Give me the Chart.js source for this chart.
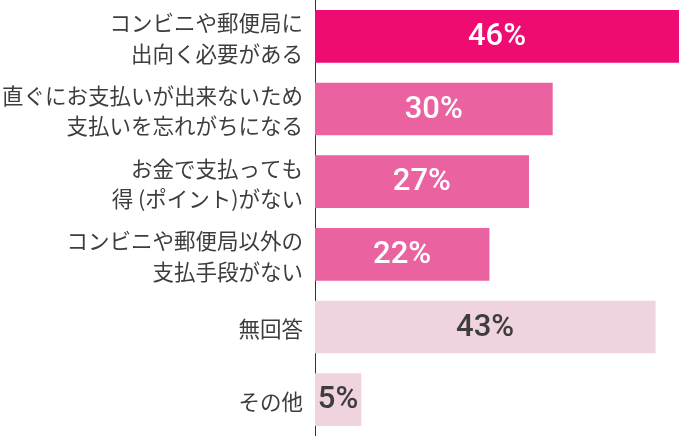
<!DOCTYPE html>
<html>
<head>
<meta charset="utf-8">
<script src="https://cdn.jsdelivr.net/npm/chart.js@4"></script>
<style>
  html, body { margin: 0; padding: 0; background: #fff; }
  #wrap { width: 679px; height: 436px; overflow: hidden; }
</style>
</head>
<body>
<div id="wrap"><canvas id="chart"></canvas></div>
<script>
const categories = [
    ['コンビニや郵便局に', '出向く必要がある'],
    ['直ぐにお支払いが出来ないため', '支払いを忘れがちになる'],
    ['お金で支払っても', '得 (ポイント)がない'],
    ['コンビニや郵便局以外の', '支払手段がない'],
    '無回答',
    'その他'
];
const values = [46, 30, 27, 22, 43, 5];
const valueLabels = ['46%', '30%', '27%', '22%', '43%', '5%'];

const barColors = ['#ee0b72', '#ea63a0', '#ea63a0', '#ea63a0', '#efd4e0', '#efd4e0'];
const labelColors = ['#ffffff', '#ffffff', '#ffffff', '#ffffff', '#3d3d3d', '#3d3d3d'];

const valueLabelPlugin = {
    id: 'valueLabels',
    afterDatasetsDraw(chart) {
        const ctx = chart.ctx;
        const meta = chart.getDatasetMeta(0);
        ctx.save();
        ctx.font = '500 31px Roboto, "Noto Sans", sans-serif';
        ctx.textAlign = 'center';
        ctx.textBaseline = 'middle';
        meta.data.forEach((bar, i) => {
            const x = (bar.base + bar.x) / 2;
            ctx.fillStyle = labelColors[i];
            ctx.fillText(valueLabels[i], x, bar.y + 1);
        });
        ctx.restore();
    }
};

new Chart(document.getElementById('chart'), {
    type: 'bar',
    data: {
        labels: categories,
        datasets: [{
            data: values,
            backgroundColor: barColors,
            barThickness: 52,
            minBarLength: 46
        }]
    },
    options: {
        indexAxis: 'y',
        responsive: true,
        maintainAspectRatio: false,
        animation: false,
        layout: { padding: { top: -3, bottom: -3, left: 0, right: 0 } },
        plugins: {
            legend: { display: false },
            tooltip: { enabled: false }
        },
        scales: {
            x: {
                display: false,
                min: 0,
                max: 46
            },
            y: {
                afterFit(scale) {
                    scale.width = 315;
                    scale.paddingTop = 0;
                    scale.paddingBottom = 0;
                },
                grid: {
                    display: true,
                    drawOnChartArea: false,
                    drawTicks: false
                },
                border: {
                    display: true,
                    color: '#333333',
                    width: 1
                },
                ticks: {
                    padding: 12,
                    labelOffset: 2,
                    color: '#3d3d3d',
                    font: {
                        family: '"Noto Sans CJK JP", sans-serif',
                        size: 21.5,
                        lineHeight: 1.4
                    }
                }
            }
        }
    },
    plugins: [valueLabelPlugin]
});
</script>
</body>
</html>
